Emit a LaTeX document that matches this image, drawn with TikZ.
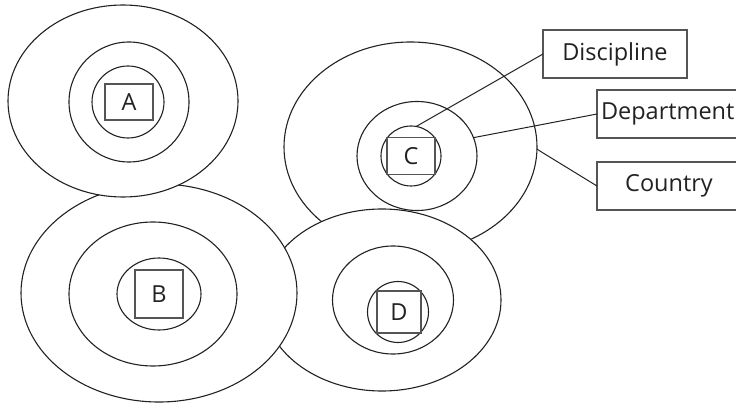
\documentclass[tikz,border=0pt]{standalone}
\usepackage{fontspec}
\setmainfont{Open Sans}
\usetikzlibrary{shapes.geometric}
\definecolor{ink}{HTML}{222222}
\definecolor{boxline}{HTML}{555555}
\tikzset{
  ring/.style={ellipse, draw=ink, line width=1.1pt, fill=white, inner sep=0pt, outer sep=0pt},
  letterbox/.style={rectangle, draw=boxline, line width=1.1pt, inner sep=0pt, outer sep=0pt, text=ink, font=\fontsize{23.5}{27}\selectfont},
  labelbox/.style={rectangle, draw=boxline, line width=1.1pt, fill=white, inner ysep=0pt, outer sep=0pt, text=ink, font=\fontsize{23.5}{27}\selectfont, minimum height=48pt},
  lead/.style={draw=ink, line width=1pt}
}
\begin{document}
\begin{tikzpicture}[x=1pt,y=-1pt]
\useasboundingbox (0,0) rectangle (736,403);
\begin{scope}
\clip (0,0) rectangle (736,403);
% C
\node[ring, minimum width=253pt, minimum height=210pt] (cout) at (410.5,147) {};
\node[ring, minimum width=120pt, minimum height=109pt] (cmid) at (417,156) {};
\node[ring, minimum width=60pt, minimum height=60pt] (cin) at (411,156) {};
\node[letterbox, minimum width=48pt, minimum height=37pt] (cbox) at (411,156) {C};
% D
\node[ring, minimum width=238pt, minimum height=182pt] (dout) at (382,300) {};
\node[ring, minimum width=121pt, minimum height=108pt] (dmid) at (393,300) {};
\node[ring, minimum width=61pt, minimum height=61pt] (din) at (398,312) {};
\node[letterbox, minimum width=44pt, minimum height=42pt] (dbox) at (399,312) {D};
% B
\node[ring, minimum width=276pt, minimum height=218pt] (bout) at (159,293) {};
\node[ring, minimum width=168pt, minimum height=144pt] (bmid) at (153,294) {};
\node[ring, minimum width=84pt, minimum height=72pt] (bin) at (159,294) {};
\node[letterbox, minimum width=48pt, minimum height=48pt] (bbox) at (159,294) {B};
% A
\node[ring, minimum width=230pt, minimum height=192pt] (aout) at (123,101) {};
\node[ring, minimum width=120pt, minimum height=120pt] (amid) at (129,102) {};
\node[ring, minimum width=72pt, minimum height=72pt] (ain) at (128,102) {};
\node[letterbox, minimum width=48pt, minimum height=36pt] (abox) at (129,102) {A};
% labels
\node[labelbox, minimum width=144pt] (disc) at (615,54) {Discipline};
\node[labelbox, anchor=west, text width=140pt, inner xsep=4pt, align=left] (dept) at (597,114) {Department};
\node[labelbox, anchor=west, minimum width=144pt, inner xsep=0pt] (ctry) at (597,186) {Country};
% leaders
\draw[lead] (disc.west) -- (cin.80);
\draw[lead] (dept.west) -- (cmid.18);
\draw[lead] (ctry.west) -- (cout.-1);
\end{scope}
\end{tikzpicture}
\end{document}
